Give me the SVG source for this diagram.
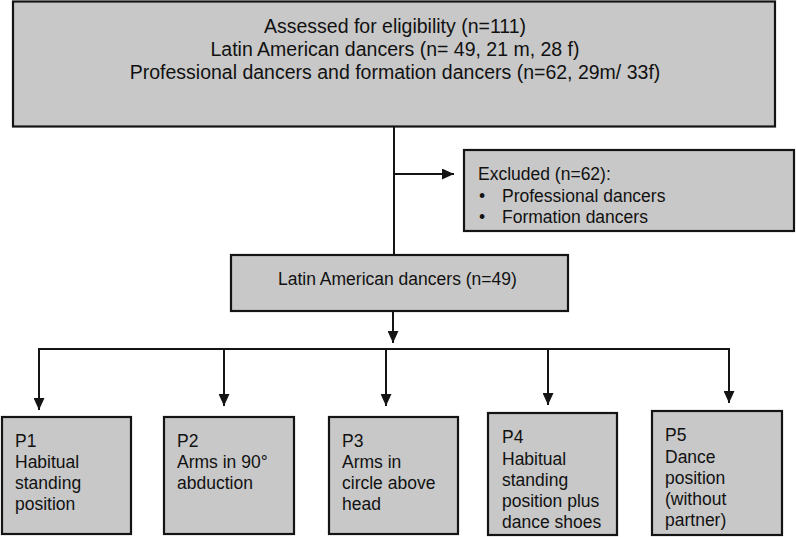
<svg xmlns="http://www.w3.org/2000/svg" width="796" height="537" viewBox="0 0 796 537">
<style>
.box{fill:#c8c8c8;stroke:#141414;stroke-width:2.2}
.t{font-family:"Liberation Sans",Arial,sans-serif;fill:#111}
.big{font-size:19.5px}
.med{font-size:17.5px}
.ln{fill:none;stroke:#141414;stroke-width:2}
</style>
<defs>
<marker id="ah" markerUnits="userSpaceOnUse" markerWidth="12" markerHeight="11" refX="12" refY="5.5" orient="auto">
<path d="M0,0 L12,5.5 L0,11 z" fill="#141414"/>
</marker>
</defs>
<g id="connectors">
<path class="ln" d="M394,127 L394,255"/>
<path class="ln" d="M394,174 L454,174" marker-end="url(#ah)"/>
<path class="ln" d="M393,311 L393,343" marker-end="url(#ah)"/>
<path class="ln" d="M39,349 L729,349"/>
<path class="ln" d="M39,348 L39,410" marker-end="url(#ah)"/>
<path class="ln" d="M224,349 L224,406" marker-end="url(#ah)"/>
<path class="ln" d="M386,349 L386,406" marker-end="url(#ah)"/>
<path class="ln" d="M548,349 L548,405" marker-end="url(#ah)"/>
<path class="ln" d="M729,348 L729,403" marker-end="url(#ah)"/>
</g>
<g id="assessed">
<rect class="box" x="13" y="1.5" width="762" height="125"/>
<text class="t big" text-anchor="middle" x="395" y="33">Assessed for eligibility  (n=111)</text>
<text class="t big" text-anchor="middle" x="395" y="56">Latin American dancers (n= 49, 21 m, 28 f)</text>
<text class="t big" text-anchor="middle" x="395" y="79">Professional dancers and  formation dancers (n=62, 29m/ 33f)</text>
</g>
<g id="excluded">
<rect class="box" x="464" y="150" width="330" height="81"/>
<text class="t med" x="478" y="180">Excluded (n=62):</text>
<text class="t med" x="479" y="202">•</text>
<text class="t med" x="502" y="202">Professional dancers</text>
<text class="t med" x="479" y="223">•</text>
<text class="t med" x="502" y="223">Formation dancers</text>
</g>
<g id="latin">
<rect class="box" x="231" y="255" width="337" height="56"/>
<text class="t med" x="278" y="285">Latin American dancers (n=49)</text>
</g>
<g id="p1">
<rect class="box" x="2" y="417" width="129" height="117"/>
<text class="t med" x="15" y="447">P1</text>
<text class="t med" x="15" y="468">Habitual</text>
<text class="t med" x="15" y="489">standing</text>
<text class="t med" x="15" y="510">position</text>
</g>
<g id="p2">
<rect class="box" x="164" y="417" width="130" height="117"/>
<text class="t med" x="177" y="447">P2</text>
<text class="t med" x="177" y="468">Arms in 90°</text>
<text class="t med" x="177" y="489">abduction</text>
</g>
<g id="p3">
<rect class="box" x="329" y="417" width="129" height="117"/>
<text class="t med" x="342" y="447">P3</text>
<text class="t med" x="342" y="468">Arms in</text>
<text class="t med" x="342" y="489">circle above</text>
<text class="t med" x="342" y="510">head</text>
</g>
<g id="p4">
<rect class="box" x="488" y="413" width="129" height="122"/>
<text class="t med" x="502" y="443">P4</text>
<text class="t med" x="502" y="465">Habitual</text>
<text class="t med" x="502" y="486">standing</text>
<text class="t med" x="502" y="507">position plus</text>
<text class="t med" x="502" y="528">dance shoes</text>
</g>
<g id="p5">
<rect class="box" x="652" y="411" width="130" height="124"/>
<text class="t med" x="665" y="441">P5</text>
<text class="t med" x="665" y="463">Dance</text>
<text class="t med" x="665" y="484">position</text>
<text class="t med" x="665" y="505">(without</text>
<text class="t med" x="665" y="526">partner)</text>
</g>
</svg>
